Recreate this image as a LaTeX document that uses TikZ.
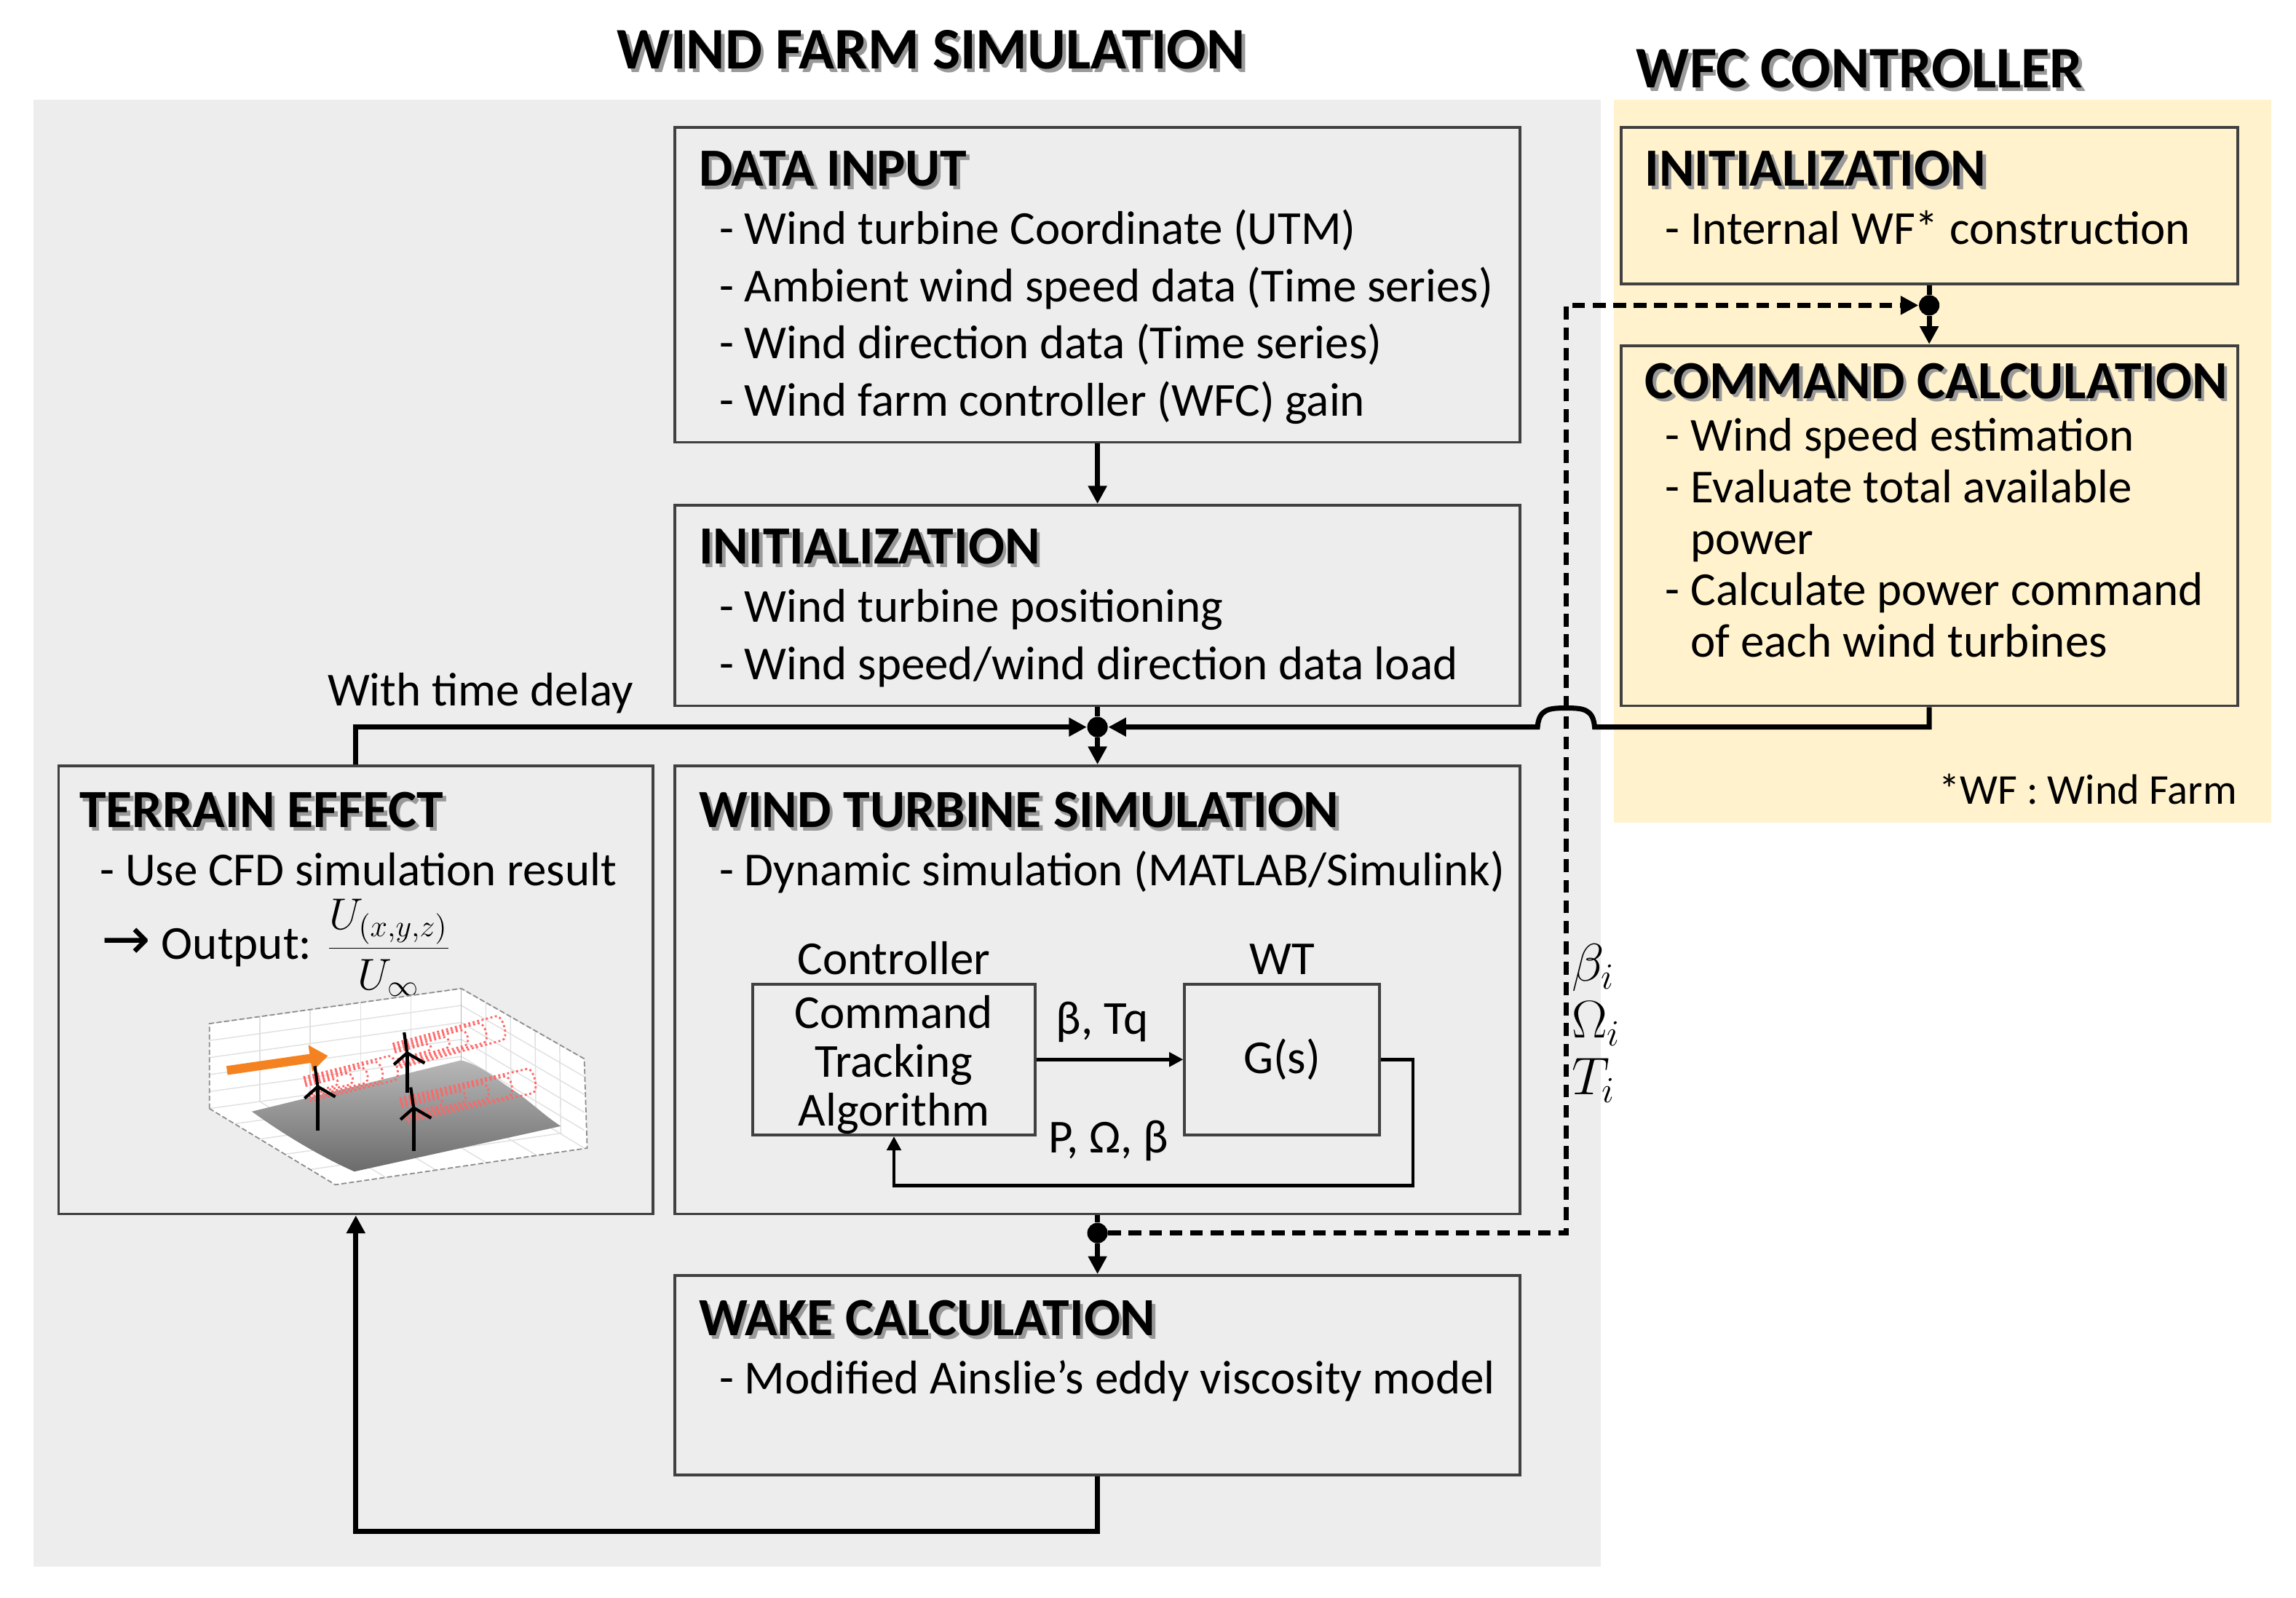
\documentclass[tikz,border=0pt]{standalone}
\usepackage{fontspec}
\setmainfont{Carlito}
\newfontfamily\symfont{DejaVu Sans}
\usetikzlibrary{arrows.meta,fit,positioning}

\definecolor{simgray}{HTML}{EDEDED}
\definecolor{wfcyellow}{HTML}{FFF2CC}
\definecolor{boxline}{HTML}{404040}
\definecolor{windorange}{HTML}{F58220}

\newcommand{\itemfont}{\fontsize{18.5}{19}\selectfont}
\newcommand{\headfont}{\fontsize{21}{24}\selectfont\bfseries}
\newcommand{\titlefont}{\fontsize{23}{26}\selectfont\bfseries}
\newcommand{\shadowed}[1]{\leavevmode\rlap{\kern1.3pt\raisebox{-1.3pt}{\textcolor{black!40}{#1}}}#1}

\tikzset{
  blk/.style={draw=boxline, line width=1.1pt, inner sep=0pt},
  title/.style={anchor=base, inner sep=0pt, font=\titlefont},
  head/.style={anchor=base west, inner sep=0pt, font=\headfont},
  item/.style={anchor=base west, inner sep=0pt, font=\itemfont},
  lbl/.style={inner sep=0pt, font=\itemfont},
  conn/.style={line width=2pt},
  arr/.style={conn, -{Triangle[length=7pt,width=7pt]}},
  arrsmall/.style={line width=1.3pt, -{Triangle[length=5.5pt,width=5.5pt]}},
  dot/.style={circle, fill, inner sep=0pt, minimum size=8pt},
  grid/.style={black!12, line width=0.4pt},
}

\begin{document}
\begin{tikzpicture}[x=0.20117mm, y=-0.20117mm]
  \useasboundingbox (0,0) rectangle (1568,1091.2);

  % backgrounds
  \fill[simgray] (23,68) rectangle (1093,1070);
  \fill[wfcyellow] (1102,68) rectangle (1551,562);

  % titles
  \node[title] (simtitle) at (636,47) {\shadowed{WIND FARM SIMULATION}};
  \node[title] (wfctitle) at (1270,60) {\shadowed{WFC CONTROLLER}};

  % simulation blocks
  \node[blk, fit={(461,87) (1038,302)}] (datain) {};
  \node[blk, fit={(461,345) (1038,482)}] (init) {};
  \node[blk, fit={(461,523) (1038,829)}] (wts) {};
  \node[blk, fit={(461,871) (1038,1007)}] (wake) {};
  \node[blk, fit={(40,523) (446,829)}] (terrain) {};

  % controller blocks
  \node[blk, fit={(1107,87) (1528,194)}] (winit) {};
  \node[blk, fit={(1107,236) (1528,482)}] (cmd) {};

  % block texts
  \node[head] (datainhd) at (477,127) {\shadowed{DATA INPUT}};
  \foreach \t [count=\i] in {Wind turbine Coordinate (UTM), Ambient wind speed data (Time series),
      Wind direction data (Time series), Wind farm controller (WFC) gain}
    \node[item] (datain\i) at (491,{167+39*(\i-1)}) {- \t};

  \node[head] (inithd) at (477,385) {\shadowed{INITIALIZATION}};
  \foreach \t [count=\i] in {Wind turbine positioning, Wind speed/wind direction data load}
    \node[item] (init\i) at (491,{425+39*(\i-1)}) {- \t};

  \node[head] (wtshd) at (477,565) {\shadowed{WIND TURBINE SIMULATION}};
  \node[item] (wts1) at (491,605) {- Dynamic simulation (MATLAB/Simulink)};

  \node[head] (wakehd) at (477,912) {\shadowed{WAKE CALCULATION}};
  \node[item] (wake1) at (491,952) {- Modified Ainslie’s eddy viscosity model};

  \node[head] (terrainhd) at (54,565) {\shadowed{TERRAIN EFFECT}};
  \node[item] (terrain1) at (68,605) {- Use CFD simulation result};
  \node[item] (terrain2) at (69,655) {{\symfont\fontsize{23}{23}\selectfont →} Output: $\displaystyle\frac{U_{(x,y,z)}}{U_\infty}$};

  \node[head] (winithd) at (1123,127) {\shadowed{INITIALIZATION}};
  \node[item] (winit1) at (1137,167) {- Internal WF* construction};

  \node[head] (cmdhd) at (1123,272) {\shadowed{COMMAND CALCULATION}};
  \foreach \t [count=\i] in {- Wind speed estimation, - Evaluate total available, \phantom{-}\ power,
      - Calculate power command, \phantom{-}\ of each wind turbines}
    \node[item] (cmd\i) at (1137,{308+35.2*(\i-1)}) {\t};

  \node[item, anchor=base east] (wfnote) at (1528,549) {\fontsize{16.6}{19}\selectfont *WF : Wind Farm};

  % wind turbine simulation loop
  \node[blk, fit={(514,672) (707,775)}] (ctrl) {};
  \node[lbl, align=center] (ctrltxt) at ([yshift=-2pt]ctrl.center) {Command\\Tracking\\Algorithm};
  \node[lbl, above=3pt of ctrl] (ctrllbl) {Controller};
  \node[blk, fit={(809,672) (942,775)}] (gs) {};
  \node[lbl] (gstxt) at (gs.center) {G(s)};
  \node[lbl, above=3pt of gs] (gslbl) {WT};
  \draw[arrsmall] (ctrl.east) -- (gs.west) node[lbl, midway, above=6pt, xshift=-3pt] (cmdsig) {β, Tq};
  \draw[arrsmall] (gs.east) -- ++(22,0) -- ++(0,86) -| (ctrl.south);
  \node[lbl, anchor=base] (fbsig) at (757,787) {P, Ω, β};

  % main connectors
  \draw[arr] (datain.south) -- (init.north);
  \node[dot] (j1) at (749.5,496.5) {};
  \draw[conn] (init.south) -- (j1);
  \draw[arr] (j1) -- (wts.north);
  \draw[arr] (terrain.north) |- (j1);
  \node[lbl, anchor=base] (delay) at (328,482) {With time delay};
  \coordinate (jumpR) at (1089,496.5);
  \coordinate (jumpL) at (1050,496.5);
  \draw[arr] (cmd.south) |- (jumpR) .. controls (1088,484) and (1081,483.5) .. (1069.5,483.5)
    .. controls (1058,483.5) and (1051,484) .. (jumpL) -- (j1);

  \node[dot] (j2) at (749.5,842) {};
  \draw[conn] (wts.south) -- (j2);
  \draw[arr] (j2) -- (wake.north);
  \node[dot] (j3) at (1317.5,208.5) {};
  \draw[conn] (winit.south) -- (j3);
  \draw[arr] (j3) -- (cmd.north);
  \coordinate (dashtop) at (1069.5,208.5);
  \draw[arr, dash pattern=on 5pt off 3pt] (j2) -| (dashtop) -- (j3);
  \node[lbl, anchor=west] (sbeta) at (1073,661) {\fontsize{20}{22}\selectfont$\beta_i$};
  \node[lbl, anchor=west] (somega) at (1073,699) {\fontsize{20}{22}\selectfont$\Omega_i$};
  \node[lbl, anchor=west] (storque) at (1073,738) {\fontsize{20}{22}\selectfont$T_i$};

  \draw[arr] (wake.south) -- ++(0,38) -| (terrain.south);

  % terrain plot (CFD result)
  \fill[white] (143,699) -- (315,675) -- (399,723) -- (401,784) -- (229,809) -- (143,757) -- cycle;
  \foreach \z in {0,...,5}
    \draw[grid] (143,699+\z*11.6) -- (315,675+\z*11.6) -- (399,723+\z*12.2);
  \foreach \t in {0.2,0.4,0.6,0.8} {
    \draw[grid] (143+172*\t,699-24*\t) -- (143+172*\t,757-24*\t);
    \draw[grid] (315+84*\t,675+48*\t) -- (315+85*\t,733+51*\t);
    \draw[grid] (143+86*\t,757+52*\t) -- (315+86*\t,733+51*\t);
    \draw[grid] (143+172*\t,757-24*\t) -- (229+172*\t,809-25*\t);
  }
  \draw[black!45, line width=0.5pt, dash pattern=on 2pt off 1pt] (143,757) -- (143,699) -- (315,675) -- (399,723) -- (401,784) -- (229,809) -- cycle;
  \draw[black!30, line width=0.4pt] (315,675) -- (315,733);
  \shade[top color=black!28, bottom color=black!58] (172,759) -- (315,724) .. controls (330,728) and (340,738) .. (350,744)
    .. controls (362,752) and (372,762) .. (383,769) -- (242,800) .. controls (215,788) and (190,772) .. (172,759) -- cycle;
  \foreach \hx/\hy/\s/\rot in {217/742/0.8/14, 278/719/1/15, 282.5/756.5/1.25/13} {
    \begin{scope}[shift={(\hx,\hy)}, rotate=\rot]
      \foreach \k in {1,...,5}
        \draw[red!60, densely dotted, line width=0.8pt] (-8,{-1-1.5*\k}) -- ({\s*13*\k},{-1-1.5*\k})
          .. controls ({\s*13*\k+5},{-1-1.5*\k}) and ({\s*13*\k+5},{1+1.5*\k}) .. ({\s*13*\k},{1+1.5*\k}) -- (-8,{1+1.5*\k});
    \end{scope}
  }
  \draw[windorange, line width=3.5pt, -{Triangle[length=7pt,width=10pt]}] (155,731) -- (224,721);
  \foreach \hx/\hy/\by in {217/742/772, 278/719/746, 282.5/756.5/786} {
    \draw[line width=1.5pt] (\hx,\hy) -- (\hx,\by);
    \draw[line width=1.2pt] (\hx,\hy) -- ++(-2,-14);
    \draw[line width=1.2pt] (\hx,\hy) -- ++(-9,8);
    \draw[line width=1.2pt] (\hx,\hy) -- ++(12,7);
  }
\end{tikzpicture}
\end{document}
